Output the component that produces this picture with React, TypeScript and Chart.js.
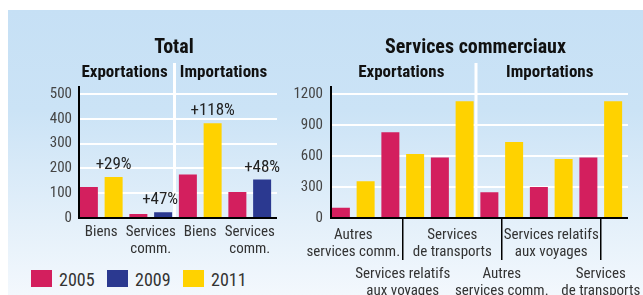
import { useEffect, useRef } from "react";
import { Chart, registerables } from "chart.js";

Chart.register(...registerables);

const FONT = "'Roboto Condensed', 'Open Sans', sans-serif";

// Legend / series
const seriesNames = ["2005", "2009", "2011"];
const seriesColors = ["#D31F5E", "#2B3990", "#FFD200"];

// Headers
const flowNames = ["Exportations", "Importations"];

// Panel 1 : Total
const totalTitle = "Total";
const totalCategories = [["Biens"], ["Services", "comm."], ["Biens"], ["Services", "comm."]];
const total2005 = [125, 16, 175, 105];
const total2009 = [null, 23.5, null, 155];
const total2011 = [165, null, 382, null];
const totalGrowth = ["+29%", "+47%", "+118%", "+48%"];
const totalGrowthSeries = [2, 1, 2, 1];
const totalYMax = 500;
const totalYStep = 100;

// Panel 2 : Services commerciaux
const servTitle = "Services commerciaux";
const servCategories = [
  ["Autres", "services comm."],
  ["Services relatifs", "aux voyages"],
  ["Services", "de transports"],
  ["Autres", "services comm."],
  ["Services relatifs", "aux voyages"],
  ["Services", "de transports"],
];
const serv2005 = [98, 830, 585, 250, 300, 585];
const serv2011 = [355, 620, 1130, 735, 570, 1130];
const servYMax = 1200;
const servYStep = 300;

const SHIFT = 2.5;

function makeDecor(cfg: any) {
  return {
    id: "decor",
    beforeDatasetsDraw(chart: any) {
      const { ctx, chartArea: a, scales } = chart;
      const y = scales.y;
      const axisX = a.left + SHIFT;
      const right = a.right + SHIFT;
      ctx.save();
      ctx.strokeStyle = "#ffffff";
      ctx.lineWidth = 2;
      for (const t of y.ticks) {
        const py = Math.round(y.getPixelForValue(t.value));
        ctx.beginPath();
        ctx.moveTo(axisX, py);
        ctx.lineTo(right, py);
        ctx.stroke();
      }
      const mid = (a.left + a.right) / 2 - 1;
      ctx.lineWidth = 3;
      ctx.beginPath();
      ctx.moveTo(mid, a.top - 31);
      ctx.lineTo(mid, a.bottom);
      ctx.stroke();
      ctx.restore();
    },
    afterDatasetsDraw(chart: any) {
      const { ctx, chartArea: a, scales } = chart;
      const axisX = a.left + SHIFT;
      const right = a.right + SHIFT;
      const mid = (a.left + a.right) / 2;
      ctx.save();
      // axes
      ctx.strokeStyle = "#000";
      ctx.lineWidth = 2;
      ctx.beginPath();
      ctx.moveTo(axisX, a.top - 8);
      ctx.lineTo(axisX, a.bottom);
      ctx.lineTo(right, a.bottom);
      ctx.stroke();
      // titles
      ctx.fillStyle = "#111";
      ctx.textAlign = "center";
      ctx.textBaseline = "alphabetic";
      ctx.font = `bold 20px ${FONT}`;
      ctx.fillText(cfg.title, mid - 1.5, a.top - 41);
      ctx.font = `bold 17px ${FONT}`;
      ctx.fillText(flowNames[0], (a.left + mid) / 2 - 1.5, a.top - 17);
      ctx.fillText(flowNames[1], (mid + a.right) / 2 - 1.5, a.top - 17);
      // growth labels
      if (cfg.growth) {
        ctx.font = `17px ${FONT}`;
        ctx.fillStyle = "#222";
        cfg.growth.forEach((g: string, i: number) => {
          const el = chart.getDatasetMeta(cfg.growthSeries[i]).data[i];
          if (el) ctx.fillText(g, el.x - (i === 1 ? 3 : 0), el.y - 8);
        });
      }
      // staggered x labels
      if (cfg.xLabels) {
        const xs = scales.x;
        ctx.font = `15px ${FONT}`;
        ctx.fillStyle = "#333";
        cfg.xLabels.forEach((lines: string[], i: number) => {
          const px = xs.getPixelForValue(i);
          if (i % 2 === 0) {
            ctx.fillText(lines[0], px, a.bottom + 21);
            ctx.fillText(lines[1], px, a.bottom + 38);
          } else {
            ctx.strokeStyle = "#000";
            ctx.lineWidth = 1.5;
            ctx.beginPath();
            ctx.moveTo(px, a.bottom);
            ctx.lineTo(px, a.bottom + 42);
            ctx.stroke();
            ctx.fillText(lines[0], px, a.bottom + 60);
            ctx.fillText(lines[1], px, a.bottom + 77);
          }
        });
      }
      ctx.restore();
    },
  };
}

function TotalChart() {
  const ref = useRef<HTMLCanvasElement>(null);
  useEffect(() => {
    const series = [total2005, total2009, total2011];
    const chart = new Chart(ref.current as HTMLCanvasElement, {
      type: "bar",
      data: {
        labels: totalCategories as any,
        datasets: seriesNames.map((n, k) => ({
          label: n,
          data: series[k] as any,
          backgroundColor: seriesColors[k],
          skipNull: true,
          categoryPercentage: 1,
          barPercentage: 0.727,
        })),
      },
      options: {
        animation: false,
        responsive: false,
        devicePixelRatio: 1,
        layout: { padding: { left: 0, right: 15.5, top: 84, bottom: 0 } },
        plugins: { legend: { display: false }, tooltip: { enabled: false } },
        scales: {
          x: {
            grid: { display: false, drawTicks: false },
            border: { display: false },
            ticks: {
              color: "#333",
              font: { family: FONT, size: 15, lineHeight: 17 / 15 },
              padding: 6,
              maxRotation: 0,
              autoSkip: false,
            },
            afterFit: (s: any) => {
              s.height = 47;
            },
          },
          y: {
            min: 0,
            max: totalYMax,
            grid: { display: false, drawTicks: false },
            border: { display: false },
            ticks: {
              stepSize: totalYStep,
              color: "#444",
              font: { family: FONT, size: 15 },
              padding: 4.5,
              callback: (v: any) => String(v),
            },
            afterFit: (s: any) => {
              s.width = 68.5;
            },
          },
        },
      } as any,
      plugins: [makeDecor({ title: totalTitle, growth: totalGrowth, growthSeries: totalGrowthSeries })],
    });
    return () => chart.destroy();
  }, []);
  return (
    <canvas ref={ref} width={282} height={255} style={{ position: "absolute", left: 8, top: 10, width: 282, height: 255 }} />
  );
}

function ServChart() {
  const ref = useRef<HTMLCanvasElement>(null);
  useEffect(() => {
    const series = [serv2005, serv2011];
    const colors = [seriesColors[0], seriesColors[2]];
    const names = [seriesNames[0], seriesNames[2]];
    const chart = new Chart(ref.current as HTMLCanvasElement, {
      type: "bar",
      data: {
        labels: servCategories as any,
        datasets: names.map((n, k) => ({
          label: n,
          data: series[k],
          backgroundColor: colors[k],
          categoryPercentage: 1,
          barPercentage: 0.727,
        })),
      },
      options: {
        animation: false,
        responsive: false,
        devicePixelRatio: 1,
        layout: { padding: { left: 0, right: 17.5, top: 84, bottom: 0 } },
        plugins: { legend: { display: false }, tooltip: { enabled: false } },
        scales: {
          x: {
            grid: { display: false, drawTicks: false },
            border: { display: false },
            ticks: { display: false },
            afterFit: (s: any) => {
              s.height = 77;
            },
          },
          y: {
            min: 0,
            max: servYMax,
            grid: { display: false, drawTicks: false },
            border: { display: false },
            ticks: {
              stepSize: servYStep,
              color: "#444",
              font: { family: FONT, size: 15 },
              padding: 5.5,
              callback: (v: any) => String(v),
            },
            afterFit: (s: any) => {
              s.width = 38.5;
            },
          },
        },
      } as any,
      plugins: [makeDecor({ title: servTitle, xLabels: servCategories })],
    });
    return () => chart.destroy();
  }, []);
  return (
    <canvas ref={ref} width={353} height={285} style={{ position: "absolute", left: 290, top: 10, width: 353, height: 285 }} />
  );
}

export default function App() {
  return (
    <div style={{ position: "fixed", left: 0, top: 0, width: 643, height: 295, overflow: "hidden", background: "#fff" }}>
      <div
        style={{
          position: "absolute",
          left: 8,
          top: 10,
          width: 635,
          height: 285,
          background: "linear-gradient(to bottom, #C6E0F5 0%, #CBE3F6 35%, #E4F0FA 75%, #F3F8FD 100%)",
        }}
      />
      <TotalChart />
      <ServChart />
      {seriesNames.map((n, k) => (
        <div key={n}>
          <div
            style={{
              position: "absolute",
              left: 31 + k * 76,
              top: 270,
              width: 21,
              height: 17,
              background: seriesColors[k],
            }}
          />
          <div
            style={{
              position: "absolute",
              left: 59 + k * 76,
              top: 271,
              height: 17,
              lineHeight: "17px",
              fontFamily: FONT,
              fontSize: 18,
              color: "#333",
              whiteSpace: "nowrap",
            }}
          >
            {n}
          </div>
        </div>
      ))}
    </div>
  );
}
